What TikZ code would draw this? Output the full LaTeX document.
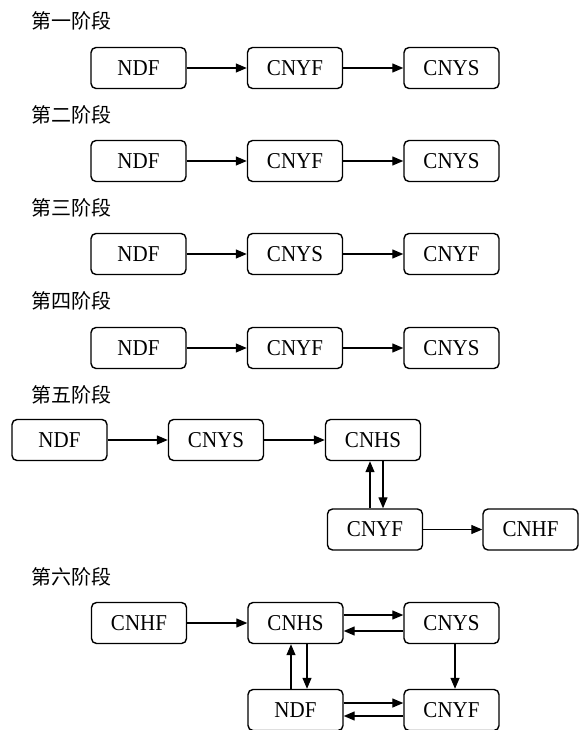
\documentclass[tikz,border=0pt]{standalone}
\usepackage{fontspec}
\usepackage{graphicx}
\setmainfont{Liberation Serif}
\newfontfamily\cjk{Noto Sans CJK SC}
\usetikzlibrary{arrows.meta}
% box captions are set slightly taller than the plain font
\newcommand\tall[1]{\scalebox{1}[1.08]{#1}}
\tikzset{
  box/.style={draw, line width=1.4pt, rounded corners=5pt, minimum width=95pt,
    minimum height=41pt, inner sep=0pt, font=\fontsize{21}{25}\selectfont},
  stagelabel/.style={anchor=west, inner sep=0pt, font=\cjk\fontsize{20}{23}\selectfont},
  flow/.style={line width=1.3pt, -{Triangle[length=11pt,width=9pt]}}
}
\begin{document}
\begin{tikzpicture}[x=1pt,y=-1pt]
\useasboundingbox (0,0) rectangle (579,730);

% stage 1
\node[stagelabel] (l1) at (31,21) {第一阶段};
\node[box] (a1) at (138.5,68) {\tall{NDF}};
\node[box] (b1) at (295,68) {\tall{CNYF}};
\node[box] (c1) at (451.5,68) {\tall{CNYS}};
\draw[flow] (a1) -- (b1);
\draw[flow] (b1) -- (c1);

% stage 2
\node[stagelabel] (l2) at (31,114.5) {第二阶段};
\node[box] (a2) at (138.5,161) {\tall{NDF}};
\node[box] (b2) at (295,161) {\tall{CNYF}};
\node[box] (c2) at (451.5,161) {\tall{CNYS}};
\draw[flow] (a2) -- (b2);
\draw[flow] (b2) -- (c2);

% stage 3
\node[stagelabel] (l3) at (31,208) {第三阶段};
\node[box] (a3) at (138.5,254) {\tall{NDF}};
\node[box] (b3) at (295,254) {\tall{CNYS}};
\node[box] (c3) at (451.5,254) {\tall{CNYF}};
\draw[flow] (a3) -- (b3);
\draw[flow] (b3) -- (c3);

% stage 4
\node[stagelabel] (l4) at (31,301) {第四阶段};
\node[box] (a4) at (138.5,348) {\tall{NDF}};
\node[box] (b4) at (295,348) {\tall{CNYF}};
\node[box] (c4) at (451.5,348) {\tall{CNYS}};
\draw[flow] (a4) -- (b4);
\draw[flow] (b4) -- (c4);

% stage 5
\node[stagelabel] (l5) at (31,395) {第五阶段};
\node[box] (ndf5) at (59.5,440) {\tall{NDF}};
\node[box] (cnys5) at (216,440) {\tall{CNYS}};
\node[box] (cnhs5) at (373,440) {\tall{CNHS}};
\node[box] (cnyf5) at (375,529.5) {\tall{CNYF}};
\node[box] (cnhf5) at (530.5,529.5) {\tall{CNHF}};
\draw[flow] (ndf5) -- (cnys5);
\draw[flow] (cnys5) -- (cnhs5);
\draw[flow] ([xshift=-5pt]cnyf5.north) -- ([xshift=-5pt]cnyf5.north |- cnhs5.south);
\draw[flow] ([xshift=8pt]cnyf5.north |- cnhs5.south) -- ([xshift=8pt]cnyf5.north);
\draw[flow] (cnyf5) -- (cnhf5);

% stage 6
\node[stagelabel] (l6) at (31,577) {第六阶段};
\node[box] (cnhf6) at (139,623) {\tall{CNHF}};
\node[box] (cnhs6) at (295.5,623) {\tall{CNHS}};
\node[box] (cnys6) at (451.5,623) {\tall{CNYS}};
\node[box] (ndf6) at (295.5,710) {\tall{NDF}};
\node[box] (cnyf6) at (451.5,710) {\tall{CNYF}};
\draw[flow] (cnhf6) -- (cnhs6);
\draw[flow] ([yshift=8pt]cnhs6.east) -- ([yshift=8pt]cnys6.west);
\draw[flow] ([yshift=-8pt]cnys6.west) -- ([yshift=-8pt]cnhs6.east);
\draw[flow] ([xshift=3.5pt]cnys6.south) -- ([xshift=3.5pt]cnyf6.north);
\draw[flow] ([xshift=-4.5pt]ndf6.north) -- ([xshift=-4.5pt]cnhs6.south);
\draw[flow] ([xshift=11.5pt]cnhs6.south) -- ([xshift=11.5pt]ndf6.north);
\draw[flow] ([yshift=7pt]ndf6.east) -- ([yshift=7pt]cnyf6.west);
\draw[flow] ([yshift=-6pt]cnyf6.west) -- ([yshift=-6pt]ndf6.east);
\end{tikzpicture}
\end{document}
